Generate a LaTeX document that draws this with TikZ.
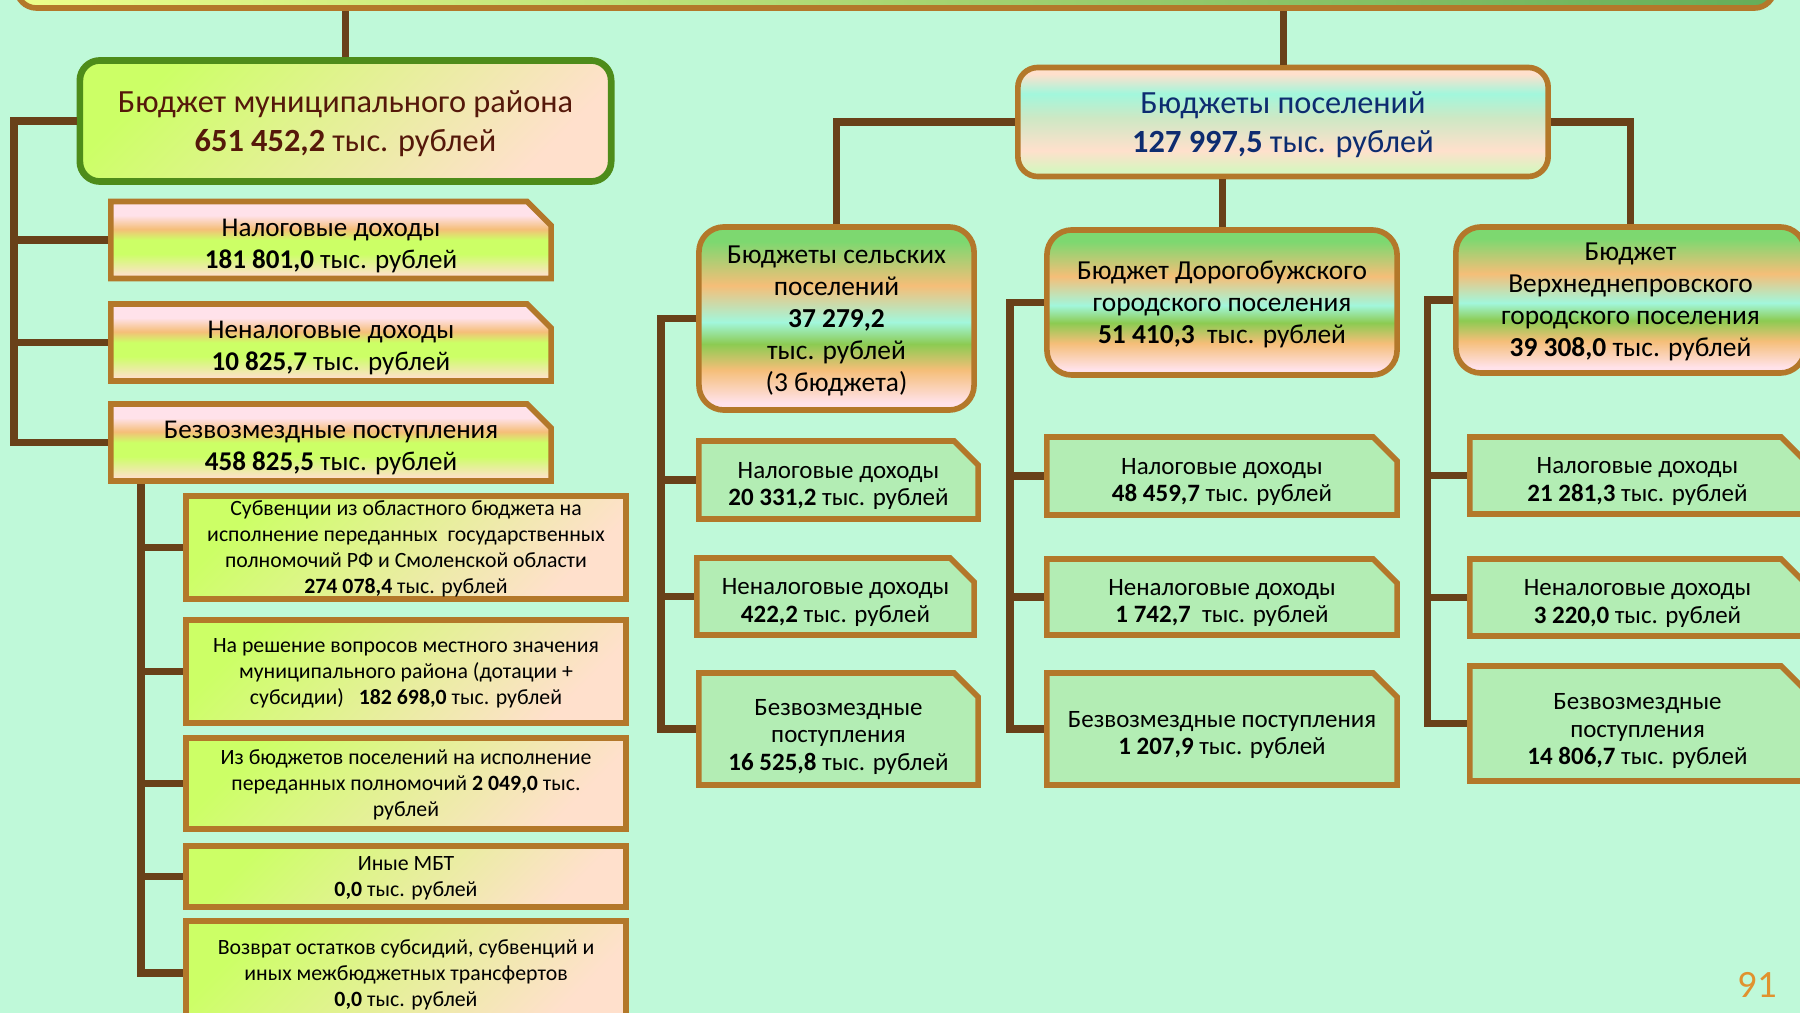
\documentclass[tikz,border=0pt]{standalone}
\usepackage{fontspec}
\setmainfont{Carlito}
\usetikzlibrary{shapes.misc}

\definecolor{bgmint}{HTML}{BFF9D9}
\definecolor{linkbrown}{HTML}{694119}
\definecolor{brdr}{HTML}{B3782A}
\definecolor{brdgreen}{HTML}{4E8C1A}
\definecolor{lime}{HTML}{CCFF66}
\definecolor{peach}{HTML}{FFE0CC}
\definecolor{pinky}{HTML}{FFE2EA}
\definecolor{orng}{HTML}{F5BE78}
\definecolor{aqua}{HTML}{A2F7DC}
\definecolor{grnA}{HTML}{7DD870}
\definecolor{grnB}{HTML}{8CCB52}
\definecolor{mixg}{HTML}{CDE8C4}
\definecolor{ltgrn}{HTML}{D8F5C0}
\definecolor{itemgreen}{HTML}{B3EDB4}
\definecolor{navy}{HTML}{0D2C70}
\definecolor{maroon}{HTML}{55180A}
\definecolor{pagenum}{HTML}{E0922E}

\pgfdeclareverticalshading{revshade}{100bp}{color(0bp)=(peach); color(27bp)=(peach); color(41bp)=(lime); color(50bp)=(lime); color(57bp)=(orng); color(66bp)=(pinky); color(100bp)=(pinky)}
\pgfdeclareverticalshading{setlshade}{100bp}{color(0bp)=(pinky); color(27bp)=(pinky); color(36bp)=(orng); color(43bp)=(grnB); color(49bp)=(aqua); color(59bp)=(orng); color(71bp)=(grnA); color(100bp)=(grnA)}
\pgfdeclareverticalshading{poolshade}{100bp}{color(0bp)=(ltgrn); color(28bp)=(ltgrn); color(37bp)=(peach); color(52bp)=(mixg); color(63bp)=(aqua); color(72bp)=(peach); color(100bp)=(peach)}

\begin{document}
\begin{tikzpicture}[
  x=0.01cm, y=-0.01cm,
  link/.style={draw=linkbrown, line width=2pt},
  headbox/.style={draw=brdr, line width=1.6pt, rounded corners=0.2cm, align=center, text depth=0pt, font=\fontsize{9.2}{11.1}\selectfont},
  revbox/.style={chamfered rectangle, chamfered rectangle corners=north east, chamfered rectangle xsep=0.12cm, chamfered rectangle ysep=0.12cm,
    draw=brdr, line width=1.6pt, shade, shading=revshade, align=center, minimum width=4.4cm, minimum height=0.77cm, inner xsep=0pt, inner ysep=-2pt, text height=16.2pt, text depth=0pt, font=\fontsize{7.7}{9.1}\selectfont},
  subbox/.style={rectangle, draw=brdr, line width=1.6pt, top color=lime, bottom color=peach, shading angle=45, align=center, minimum width=4.4cm, inner sep=1pt, text depth=0pt, font=\fontsize{6.2}{7.4}\selectfont},
  setlbox/.style={draw=brdr, line width=1.6pt, rounded corners=0.25cm, shade, shading=setlshade, align=center, inner sep=1pt, text depth=0pt, font=\fontsize{7.8}{9.1}\selectfont},
  itembox/.style={chamfered rectangle, chamfered rectangle corners=north east, chamfered rectangle xsep=0.12cm, chamfered rectangle ysep=0.12cm,
    draw=brdr, line width=1.6pt, fill=itemgreen, align=center, inner xsep=0pt, inner ysep=-2pt, text height=14.7pt, text depth=0pt, font=\fontsize{7.1}{7.8}\selectfont}
]
\clip (0,0) rectangle (1800,1013);
\fill[bgmint] (0,0) rectangle (1800,1013);

\node[draw=brdr, line width=1.6pt, rounded corners=0.2cm, left color=lime!60!yellow!60, right color=grnA!80!black, minimum width=17.57cm, minimum height=1cm] (top) at (895.5,-42) {};

\node[headbox, draw=brdgreen, line width=1.9pt, top color=lime, bottom color=peach, shading angle=45, minimum width=5.31cm, minimum height=1.21cm, text=maroon] (mr) at (345.5,121) {Бюджет муниципального района\\\textbf{651 452,2} тыс. рублей};
\node[revbox] (tax) at (331,240) {Налоговые доходы\\\textbf{181 801,0} тыс. рублей};
\node[revbox] (nontax) at (331,342.5) {Неналоговые доходы\\\textbf{10 825,7} тыс. рублей};
\node[revbox] (gift) at (331,442.5) {Безвозмездные поступления\\\textbf{458 825,5} тыс. рублей};

\node[subbox, minimum height=1.03cm] (subv) at (406,547.5) {Субвенции из областного бюджета на\\исполнение переданных\ \ государственных\\полномочий РФ и Смоленской области\\\textbf{274 078,4} тыс. рублей};
\node[subbox, minimum height=1.03cm] (local) at (406,671.5) {На решение вопросов местного значения\\муниципального района (дотации +\\субсидии)\ \ \ \textbf{182 698,0} тыс. рублей};
\node[subbox, minimum height=0.91cm] (fromset) at (406,783.5) {Из бюджетов поселений на исполнение\\переданных полномочий \textbf{2 049,0} тыс.\\рублей};
\node[subbox, minimum height=0.61cm] (mbt) at (406,876.5) {Иные МБТ\\\textbf{0,0} тыс. рублей};
\node[subbox, minimum height=1.04cm] (ret) at (406,973) {Возврат остатков субсидий, субвенций и\\иных межбюджетных трансфертов\\\textbf{0,0} тыс. рублей};

\node[headbox, shade, shading=poolshade, minimum width=5.3cm, minimum height=1.09cm, text=navy] (pool) at (1283,122) {Бюджеты поселений\\\textbf{127 997,5} тыс. рублей};

\node[setlbox, minimum width=2.75cm, minimum height=1.83cm] (rural) at (836.5,318.5) {Бюджеты сельских\\поселений\\\textbf{37 279,2}\\тыс. рублей\\(3 бюджета)};
\node[setlbox, minimum width=3.5cm, minimum height=1.45cm] (dor) at (1222,302.5) {Бюджет Дорогобужского\\городского поселения\\\textbf{51 410,3}\ \ тыс. рублей};
\node[setlbox, minimum width=3.49cm, minimum height=1.46cm] (verh) at (1630.5,300) {Бюджет\\Верхнеднепровского\\городского поселения\\\textbf{39 308,0} тыс. рублей};

\node[itembox, minimum width=2.79cm, minimum height=0.78cm] (ruraltax) at (838.5,480) {Налоговые доходы\\\textbf{20 331,2} тыс. рублей};
\node[itembox, minimum width=2.77cm, minimum height=0.77cm] (ruralnontax) at (835.5,596.5) {Неналоговые доходы\\\textbf{422,2} тыс. рублей};
\node[itembox, minimum width=2.79cm, minimum height=1.12cm, text height=23.5pt] (ruralgift) at (838.5,729) {Безвозмездные\\поступления\\\textbf{16 525,8} тыс. рублей};

\node[itembox, minimum width=3.5cm, minimum height=0.78cm] (dortax) at (1222,476) {Налоговые доходы\\\textbf{48 459,7} тыс. рублей};
\node[itembox, minimum width=3.5cm, minimum height=0.76cm] (dornontax) at (1222,597) {Неналоговые доходы\\\textbf{1 742,7}\ \ тыс. рублей};
\node[itembox, minimum width=3.5cm, minimum height=1.12cm] (dorgift) at (1222,729) {Безвозмездные поступления\\\textbf{1 207,9} тыс. рублей};

\node[itembox, minimum width=3.35cm, minimum height=0.77cm] (verhtax) at (1637.5,475.5) {Налоговые доходы\\\textbf{21 281,3} тыс. рублей};
\node[itembox, minimum width=3.35cm, minimum height=0.77cm] (verhnontax) at (1637.5,597.5) {Неналоговые доходы\\\textbf{3 220,0} тыс. рублей};
\node[itembox, minimum width=3.35cm, minimum height=1.15cm, text height=23.5pt] (verhgift) at (1637.5,723.5) {Безвозмездные\\поступления\\\textbf{14 806,7} тыс. рублей};

\node[text=pagenum, font=\fontsize{11}{11}\selectfont] (pg) at (1757,985) {91};

\coordinate (mrspine) at (14,0);
\coordinate (giftspine) at (141,0);
\coordinate (ruralspine) at (661,0);
\coordinate (dorspine) at (1010,0);
\coordinate (verhspine) at (1427,0);

\draw[link] (top.south -| mr.north) -- (mr.north);
\draw[link] (top.south -| pool.north) -- (pool.north);

\draw[link] (mr.west) -| (mrspine |- gift.west) -- (gift.west);
\foreach \b in {tax,nontax}
  \draw[link] (mrspine |- \b.west) -- (\b.west);

\draw[link] (giftspine |- gift.south) |- (ret.west);
\foreach \b in {subv,local,fromset,mbt}
  \draw[link] (giftspine |- \b.west) -- (\b.west);

\draw[link] (pool.west) -| (rural.north);
\draw[link] (pool.south -| dor.north) -- (dor.north);
\draw[link] (pool.east) -| (verh.north);

\foreach \s in {rural,dor,verh} {
  \draw[link] (\s.west) -| (\s spine |- \s gift.west) -- (\s gift.west);
  \draw[link] (\s spine |- \s tax.west) -- (\s tax.west);
  \draw[link] (\s spine |- \s nontax.west) -- (\s nontax.west);
}
\end{tikzpicture}
\end{document}
